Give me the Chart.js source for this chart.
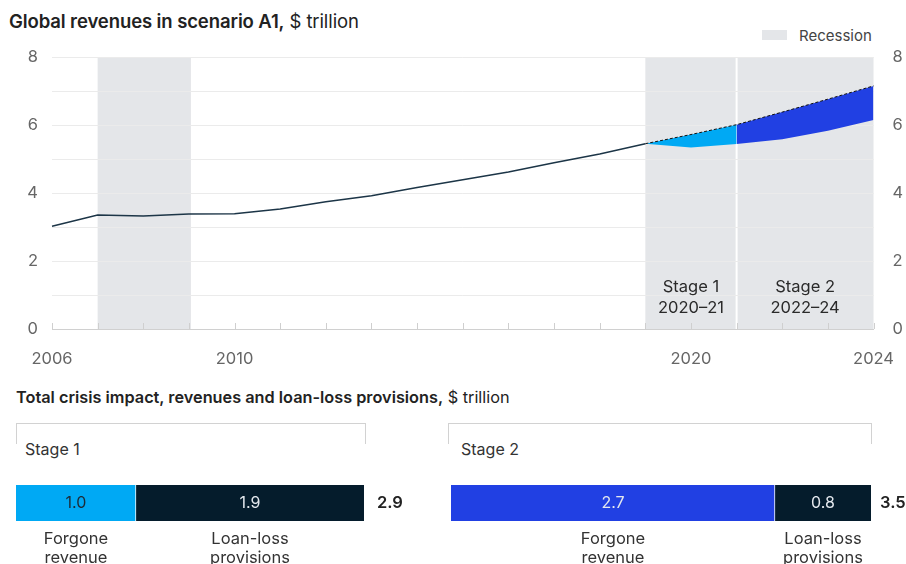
<!DOCTYPE html>
<html>
<head>
<meta charset="utf-8">
<script src="https://cdn.jsdelivr.net/npm/chart.js@4/dist/chart.umd.min.js"></script>
<style>
  html, body { margin: 0; padding: 0; background: #fff; }
  body { width: 906px; height: 564px; position: relative; overflow: hidden; font-family: Inter, "Noto Sans", sans-serif; color: #222; }
  .abs { position: absolute; }
  .title { left: 9px; top: 10px; font-size: 18.5px; white-space: nowrap; letter-spacing: -0.1px; }
  .title b, .subtitle b { font-weight: 600; }
  .subtitle { left: 16px; top: 387px; font-size: 16.3px; white-space: nowrap; letter-spacing: 0; }
  .legend { left: 762px; top: 26px; font-size: 15px; color: #444; white-space: nowrap; }
  .legend span { display: inline-block; width: 25px; height: 10px; background: #e4e6e9; margin-right: 12px; vertical-align: 1px; }
  .bracket { border: 1px solid #d2d2d2; border-bottom: none; height: 20px; top: 423px; }
  .stage { font-size: 16px; color: #333; top: 439px; }
</style>
</head>
<body>
<div class="abs title"><b>Global revenues in scenario A1,</b> $ trillion</div>
<div class="abs legend"><span></span>Recession</div>
<canvas id="trend" class="abs" style="left:0;top:0" width="906" height="380"></canvas>

<div class="abs subtitle"><b>Total crisis impact, revenues and loan-loss provisions,</b> $ trillion</div>
<div class="abs bracket" style="left:16px;width:348px"></div>
<div class="abs bracket" style="left:448px;width:422px"></div>
<div class="abs stage" style="left:25px;background:#fff;padding-right:4px">Stage 1</div>
<div class="abs stage" style="left:461px;background:#fff;padding-right:4px">Stage 2</div>
<canvas id="stage1" class="abs" style="left:0;top:470px" width="440" height="94"></canvas>
<canvas id="stage2" class="abs" style="left:440px;top:470px" width="466" height="94"></canvas>

<script>
const years = ['2006','2007','2008','2009','2010','2011','2012','2013','2014','2015','2016','2017','2018','2019','2020','2021','2022','2023','2024'];
const revenue = [3.02, 3.35, 3.32, 3.38, 3.39, 3.53, 3.74, 3.92, 4.16, 4.39, 4.62, 4.89, 5.15, 5.45, null, null, null, null, null];
const preCrisis = [null, null, null, null, null, null, null, null, null, null, null, null, null, 5.45, 5.72, 6.01, 6.38, 6.76, 7.15];
const stage1Revenue = [null, null, null, null, null, null, null, null, null, null, null, null, null, 5.45, 5.34, 5.44, null, null, null];
const stage2Revenue = [null, null, null, null, null, null, null, null, null, null, null, null, null, null, null, 5.44, 5.58, 5.83, 6.15];
const shownYears = ['2006', '2010', '2020', '2024'];
const recessions = [['2007', '2009'], ['2019', '2024']];
const stageBreak = '2021';
const stageNotes = [['2019', '2021', 'Stage 1', '2020–21'], ['2021', '2024', 'Stage 2', '2022–24']];

const impactParts = ['Forgone revenue', 'Loan-loss provisions'];
const stage1Impact = [1.0, 1.9];
const stage2Impact = [2.7, 0.8];

const FONT = 'Inter, "Noto Sans", sans-serif';
const LIGHT_BLUE = '#00a9f4';
const BRIGHT_BLUE = '#2140e3';
const NAVY = '#051c2c';

// grey recession bands and the stage divider, under the grid
const recessionBands = {
  id: 'recessionBands',
  beforeDraw(chart) {
    const { ctx, chartArea, scales: { x } } = chart;
    ctx.save();
    ctx.fillStyle = '#e4e6e9';
    recessions.forEach(([a, b]) => {
      const x0 = x.getPixelForValue(years.indexOf(a));
      const x1 = x.getPixelForValue(years.indexOf(b)) + 2;
      ctx.fillRect(x0, chartArea.top, Math.min(x1, chartArea.right) - x0, chartArea.bottom - chartArea.top);
    });
    const xs = x.getPixelForValue(years.indexOf(stageBreak));
    ctx.strokeStyle = '#fff';
    ctx.lineWidth = 2;
    ctx.beginPath();
    ctx.moveTo(xs, chartArea.top);
    ctx.lineTo(xs, chartArea.bottom);
    ctx.stroke();
    ctx.restore();
  },
  afterDatasetsDraw(chart) {
    const { ctx, chartArea, scales: { x } } = chart;
    ctx.save();
    // short year ticks sitting on the baseline
    ctx.strokeStyle = '#cfcfcf';
    ctx.lineWidth = 1;
    years.forEach((y, i) => {
      const px = Math.round(x.getPixelForValue(i)) + 0.5;
      ctx.beginPath();
      ctx.moveTo(px, chartArea.bottom - 6);
      ctx.lineTo(px, chartArea.bottom);
      ctx.stroke();
    });
    ctx.fillStyle = '#2a2a2a';
    ctx.font = '16.5px ' + FONT;
    ctx.textAlign = 'center';
    ctx.textBaseline = 'middle';
    stageNotes.forEach(([a, b, l1, l2]) => {
      const cx = (x.getPixelForValue(years.indexOf(a)) + x.getPixelForValue(years.indexOf(b))) / 2;
      ctx.fillText(l1, cx, chartArea.bottom - 42);
      ctx.fillText(l2, cx, chartArea.bottom - 21);
    });
    ctx.restore();
  }
};

new Chart(document.getElementById('trend'), {
  type: 'line',
  data: {
    labels: years,
    datasets: [
      { label: 'Pre-crisis', data: preCrisis, borderColor: '#111', borderWidth: 1, borderDash: [3, 2], pointRadius: 0, fill: false },
      { label: 'Revenue', data: revenue, borderColor: '#1c3547', borderWidth: 1.5, pointRadius: 0, fill: false },
      { label: 'Stage 1', data: stage1Revenue, borderColor: 'rgba(0,0,0,0)', borderWidth: 0, pointRadius: 0, backgroundColor: LIGHT_BLUE, fill: 0 },
      { label: 'Stage 2', data: stage2Revenue, borderColor: 'rgba(0,0,0,0)', borderWidth: 0, pointRadius: 0, backgroundColor: BRIGHT_BLUE, fill: 0 }
    ]
  },
  options: {
    responsive: false,
    animation: false,
    layout: { padding: { top: 57, left: 0, right: 0, bottom: 0 } },
    plugins: { legend: { display: false }, tooltip: { enabled: false } },
    scales: {
      x: {
        grid: { display: false },
        border: { display: true, color: '#d0d0d0' },
        ticks: {
          autoSkip: false, maxRotation: 0, padding: 12,
          color: '#666', font: { family: FONT, size: 16.5 },
          callback(v) { const l = this.getLabelForValue(v); return shownYears.includes(l) ? l : ''; }
        },
        afterFit(s) { s.height = 51; }
      },
      y: {
        min: 0, max: 8,
        grid: { color: '#ebebeb', drawTicks: false },
        border: { display: false },
        ticks: { stepSize: 1, padding: 14, color: '#666', font: { family: FONT, size: 16.5 }, callback: v => v % 2 === 0 ? v : '' },
        afterFit(s) { s.width = 52; }
      },
      y2: {
        position: 'right',
        min: 0, max: 8,
        grid: { drawOnChartArea: false, drawTicks: false },
        border: { display: false },
        ticks: { stepSize: 1, padding: 19, color: '#666', font: { family: FONT, size: 16.5 }, callback: v => v % 2 === 0 ? v : '' },
        afterFit(s) { s.width = 29; }
      }
    }
  },
  plugins: [recessionBands]
});

// value, total and part names around each stacked impact bar
const impactLabels = {
  id: 'impactLabels',
  afterDatasetsDraw(chart, args, opts) {
    const { ctx, chartArea } = chart;
    ctx.save();
    ctx.textBaseline = 'middle';
    ctx.textAlign = 'center';
    let total = 0;
    chart.data.datasets.forEach((ds, i) => {
      const bar = chart.getDatasetMeta(i).data[0];
      const cx = (bar.x + bar.base) / 2;
      total += ds.data[0];
      ctx.font = '16px ' + FONT;
      ctx.fillStyle = ds.backgroundColor === LIGHT_BLUE ? '#1d2b36' : '#e4e8ee';
      ctx.fillText(ds.data[0].toFixed(1), cx, bar.y);
      ctx.font = '16.5px ' + FONT;
      ctx.fillStyle = '#333';
      const [w1, w2] = ds.label.split(' ');
      ctx.fillText(w1, cx, chartArea.bottom + 18);
      ctx.fillText(w2, cx, chartArea.bottom + 37);
    });
    ctx.font = '600 16.5px ' + FONT;
    ctx.fillStyle = '#222';
    ctx.textAlign = 'left';
    ctx.fillText(total.toFixed(1), chartArea.right + opts.gap, (chartArea.top + chartArea.bottom) / 2);
    ctx.restore();
  }
};

function impactBar(id, values, colors, pad, gap) {
  const total = values.reduce((a, b) => a + b, 0);
  new Chart(document.getElementById(id), {
    type: 'bar',
    data: {
      labels: ['impact'],
      datasets: values.map((v, i) => ({
        label: impactParts[i], data: [v], backgroundColor: colors[i],
        borderColor: '#fff', borderWidth: i === 0 ? { right: 1 } : 0, borderSkipped: false,
        barPercentage: 1, categoryPercentage: 1
      }))
    },
    options: {
      indexAxis: 'y',
      responsive: false,
      animation: false,
      layout: { padding: pad },
      plugins: { legend: { display: false }, tooltip: { enabled: false }, impactLabels: { gap } },
      scales: {
        x: { stacked: true, min: 0, max: total, display: false },
        y: { stacked: true, display: false }
      }
    },
    plugins: [impactLabels]
  });
}

impactBar('stage1', stage1Impact, [LIGHT_BLUE, NAVY], { left: 16, right: 76, top: 15, bottom: 43 }, 13);
impactBar('stage2', stage2Impact, [BRIGHT_BLUE, NAVY], { left: 11, right: 35, top: 15, bottom: 43 }, 9);
</script>
</body>
</html>
